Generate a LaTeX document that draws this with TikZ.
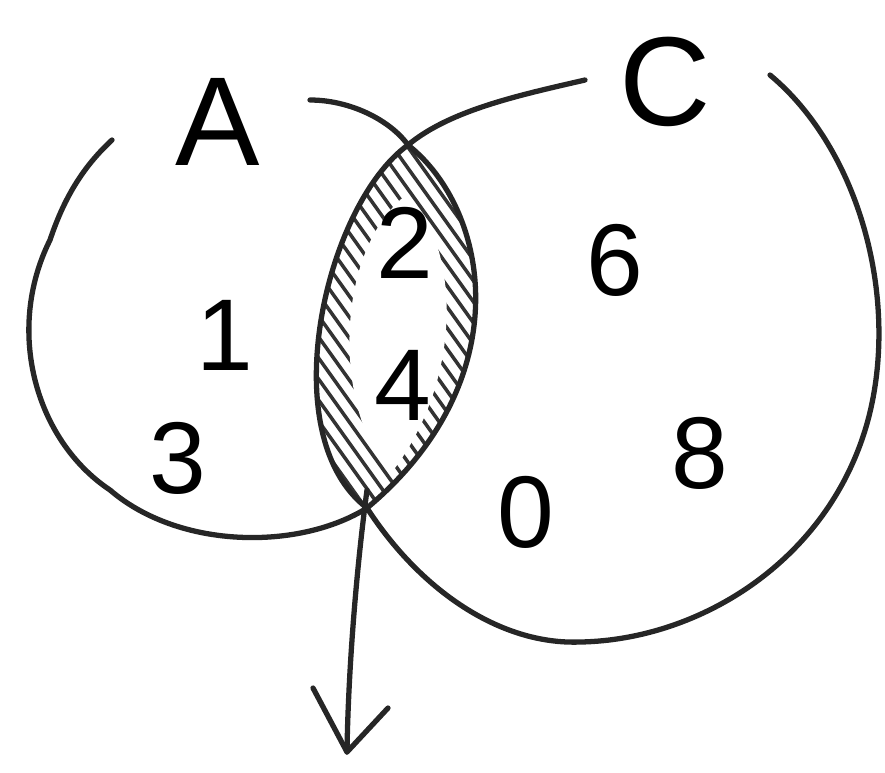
\documentclass[tikz,border=0pt]{standalone}
\usepackage{fontspec}
\setmainfont{Liberation Sans}
\begin{document}
\begin{tikzpicture}[x=0.01cm,y=-0.01cm,
  pen/.style={line width=1.5pt,line cap=round,line join=round,black!85},
  hatch/.style={line width=1pt,line cap=round,black!80},
  lbl/.style={font=\fontsize{36}{36}\selectfont,inner sep=0pt},
  num/.style={font=\fontsize{29}{29}\selectfont,inner sep=0pt}]
\useasboundingbox (0,0) rectangle (885,772);
% hatching in the lens
\begin{scope}
  \clip (408,145) .. controls (490,210) and (520,380) .. (367,508)
        .. controls (272,435) and (325,205) .. (408,145) -- cycle;
  \foreach \k in {0,15,...,520}
    \draw[hatch] (\k,80) -- ++(400,560);
  \fill[white] (406,195) .. controls (455,235) and (470,370) .. (392,472)
        .. controls (336,420) and (330,255) .. (406,195) -- cycle;
\end{scope}
% circle A
\draw[pen] (310,100) .. controls (350,100) and (390,120) .. (408,145)
  .. controls (490,210) and (520,380) .. (367,508)
  .. controls (300,550) and (180,550) .. (110,490)
  .. controls (35,440) and (5,330) .. (50,240)
  .. controls (65,195) and (85,165) .. (112,140);
% circle C
\draw[pen] (585,80) .. controls (520,95) and (450,110) .. (408,145)
  .. controls (325,205) and (272,435) .. (367,508)
  .. controls (420,590) and (500,645) .. (580,642)
  .. controls (700,640) and (830,560) .. (868,420)
  .. controls (900,300) and (860,150) .. (770,75);
% arrow
\coordinate (s) at (367,490);
\coordinate (t) at (347,752);
\draw[pen] (s) .. controls (355,580) and (348,680) .. (t);
\draw[pen] (313,688) -- (t) -- (388,708);
% labels
\node[lbl] (A) at (218,122) {A};
\node[lbl] (C) at (665,82) {C};
\node[num] (n1) at (225,335) {1};
\node[num] (n3) at (178,458) {3};
\node[num] (n2) at (405,243) {2};
\node[num] (n4) at (403,385) {4};
\node[num] (n6) at (615,260) {6};
\node[num] (n0) at (526,512) {0};
\node[num] (n8) at (700,453) {8};
\end{tikzpicture}
\end{document}
